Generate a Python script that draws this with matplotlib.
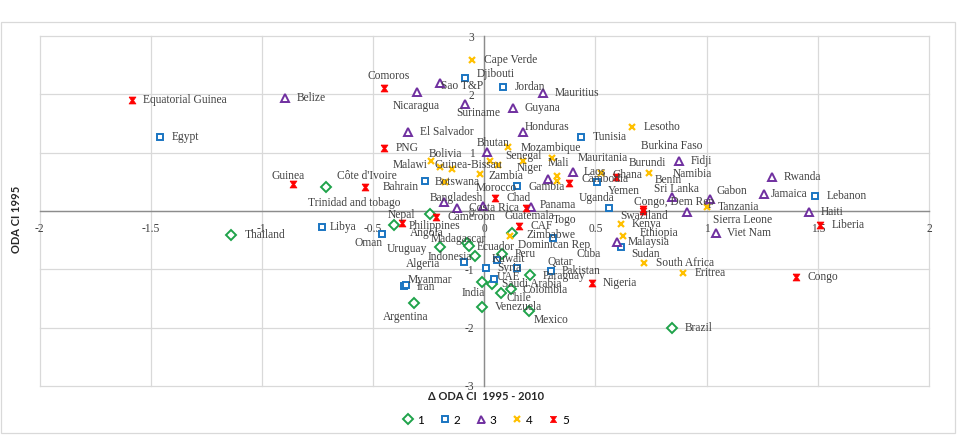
import matplotlib
matplotlib.use("Agg")
import matplotlib.pyplot as plt
from matplotlib.patches import Rectangle

# ---------------- data ----------------
g1_names = ["Trinidad and tobago", "Thailand", "Nepal", "Angola", "Uruguay", "Madagascar",
            "Ecuador", "Indonesia", "Peru", "Zimbabwe", "Paraguay", "India", "Saudi Arabia",
            "Chile", "Colombia", "Argentina", "Venezuela", "Mexico", "Brazil"]
g1_x = [-0.712, -1.140, -0.246, -0.408, -0.197, -0.076, -0.067, -0.043, 0.078, 0.126, 0.204,
        -0.012, 0.034, 0.074, 0.119, -0.318, -0.010, 0.202, 0.845]
g1_y = [0.407, -0.412, -0.048, -0.240, -0.626, -0.557, -0.605, -0.768, -0.741, -0.383, -1.103,
        -1.226, -1.256, -1.398, -1.338, -1.578, -1.642, -1.720, -2.012]

g2_names = ["Egypt", "Djibouti", "Jordan", "Tunisia", "Bahrain", "Morocco", "Yemen", "Uganda",
            "Lebanon", "Libya", "Oman", "Algeria", "Kuwait", "Syria", "Pakistan", "Qatar", "UAE",
            "Iran", "Myanmar", "Cuba", "Sudan"]
g2_x = [-1.458, -0.085, 0.085, 0.435, -0.267, 0.149, 0.508, 0.562, 1.488, -0.731, -0.458,
        -0.090, 0.057, 0.006, 0.148, 0.300, 0.045, -0.359, -0.354, 0.310, 0.613]
g2_y = [1.274, 2.286, 2.132, 1.264, 0.523, 0.437, 0.503, 0.046, 0.257, -0.274, -0.398,
        -0.880, -0.847, -0.973, -0.973, -1.029, -1.170, -1.292, -1.274, -0.458, -0.612]

g3_names = ["Belize", "Sao T&P", "Nicaragua", "Mauritius", "Suriname", "Guyana", "El Salvador",
            "Honduras", "Bhutan", "Gambia", "Laos", "Bangladesh", "Costa Rica", "Guatemala",
            "Panama", "Fidji", "Sri Lanka", "Gabon", "Sierra Leone", "Viet Nam", "Rwanda",
            "Jamaica", "Haiti", "Malaysia"]
g3_x = [-0.896, -0.199, -0.301, 0.263, -0.088, 0.130, -0.342, 0.173, 0.014, 0.288, 0.397,
        -0.183, -0.121, -0.007, 0.209, 0.877, 0.845, 1.015, 0.910, 1.042, 1.294, 1.258, 1.460,
        0.595]
g3_y = [1.943, 2.190, 2.036, 2.029, 1.835, 1.762, 1.360, 1.350, 1.017, 0.544, 0.664, 0.149,
        0.046, 0.091, 0.074, 0.858, 0.245, 0.206, -0.022, -0.383, 0.578, 0.292, -0.022, -0.527]

g4_names = ["Cape Verde", "Mozambique", "Bolivia", "Malawi", "Guinea-Bissau", "Botswana",
            "Zambia", "Senegal", "Niger", "Mauritania", "Mali", "Burkina Faso", "Burundi",
            "Ghana", "Benin", "Lesotho", "Tanzania", "Kenya", "Ethiopia", "South Africa",
            "Eritrea", "Dominican Rep"]
g4_x = [-0.054, 0.109, -0.241, -0.199, -0.147, -0.177, -0.019, 0.026, 0.063, 0.175, 0.303,
        0.326, 0.326, 0.523, 0.742, 0.665, 1.000, 0.613, 0.622, 0.719, 0.893, 0.116]
g4_y = [2.595, 1.093, 0.866, 0.760, 0.715, 0.503, 0.630, 0.863, 0.789, 0.863, 0.904, 0.600,
        0.520, 0.647, 0.647, 1.446, 0.063, -0.223, -0.429, -0.897, -1.058, -0.429]

g5_names = ["Equatorial Guinea", "Comoros", "PNG", "Guinea", "Côte d'Ivoire", "Chad",
            "Cameroon", "Philippines", "Togo", "CAF", "Cambodia", "Namibia", "Congo, Dem Rep",
            "Swaziland", "Liberia", "Congo", "Nigeria"]
g5_x = [-1.585, -0.452, -0.451, -0.859, -0.536, 0.050, -0.217, -0.368, 0.188, 0.156, 0.382,
        0.592, 0.712, 0.715, 1.509, 1.402, 0.483]
g5_y = [1.904, 2.115, 1.075, 0.458, 0.417, 0.218, -0.108, -0.206, 0.046, -0.257, 0.475,
        0.578, 0.029, 0.005, -0.240, -1.127, -1.240]

group_labels = ["1", "2", "3", "4", "5"]
x_ticks = [-2, -1.5, -1, -0.5, 0, 0.5, 1, 1.5, 2]
x_tick_labels = ["-2", "-1.5", "-1", "-0.5", "0", "0.5", "1", "1.5", "2"]
y_ticks = [-3, -2, -1, 0, 1, 2, 3]
y_tick_labels = ["-3", "-2", "-1", "0", "1", "2", "3"]
x_title = "Δ ODA CI  1995 - 2010"
y_title = "ODA CI 1995"

# ---------------- label placement (style, pixel offsets) ----------------
DEFAULT_OFF = (11.5, 0)
label_offsets = {
    "Trinidad and tobago": (-18, -16), "Thailand": (14, 0), "Nepal": (-41.5, -1),
    "Angola": (16.5, -8), "Uruguay": (-54, -1.5), "Madagascar": (-37, 4.5), "Ecuador": (7, -1),
    "Indonesia": (-47, -1), "Peru": (13, 0), "Zimbabwe": (14, -2), "Paraguay": (13, -1),
    "India": (-20, -11), "Saudi Arabia": (10, 0), "Chile": (6, -5), "Colombia": (12, -1),
    "Argentina": (-31, -14), "Venezuela": (13, 0), "Mexico": (5, -9), "Brazil": (13, 0),
    "Djibouti": (11, 4), "Bahrain": (-42, -6), "Morocco": (-42, -2), "Yemen": (11, -9),
    "Uganda": (-31, 10), "Libya": (8, 0), "Oman": (-28, -9), "Algeria": (-58, -2),
    "Kuwait": (-5, 1), "Pakistan": (45, -3), "Qatar": (-3, 9), "UAE": (2, 2.5),
    "Iran": (12, -1), "Myanmar": (2.5, 5), "Cuba": (23, -16), "Sudan": (11, -7),
    "Sao T&P": (1, -3), "Nicaragua": (-25, -14), "Suriname": (-8, -9), "Honduras": (2, 5),
    "Bhutan": (-11, 9), "Gambia": (-20, -8), "Bangladesh": (-14, 4), "Guatemala": (22, -10),
    "Panama": (9, 2), "Sri Lanka": (-18, 8), "Gabon": (7, 8), "Sierra Leone": (26, -8),
    "Jamaica": (7, 0), "Mozambique": (12, -1), "Bolivia": (-2, 7), "Malawi": (-47, 2),
    "Guinea-Bissau": (-17, 4), "Botswana": (-10, 0), "Zambia": (8, -2), "Senegal": (15, 5),
    "Niger": (18, -3), "Mauritania": (55, 3), "Mali": (-4, -5), "Burkina Faso": (84, 30),
    "Burundi": (72, 18), "Ghana": (12, -2), "Benin": (5, -7), "Ethiopia": (17, 3),
    "Dominican Rep": (8, -9), "Comoros": (-16, 12), "Guinea": (-22, 8),
    "Côte d'Ivoire": (-28, 11), "Philippines": (6, -3), "Togo": (27, -12),
    "Cambodia": (12, 4), "Namibia": (57, 3), "Congo, Dem Rep": (-9, 7), "Swaziland": (-23, -5),
}

# ---------------- figure ----------------
W, H = 957, 436
fig = plt.figure(figsize=(W / 100, H / 100), dpi=100)
fig.patches.append(Rectangle((0.5 / W, 3 / H), 954.5 / W, 411 / H, transform=fig.transFigure,
                             fill=False, edgecolor="#D9D9D9", lw=0.9))

ax = fig.add_axes([39.5 / W, (H - 385.9) / H, 889.5 / W, 349.8 / H])
ax.set_xlim(-2, 2)
ax.set_ylim(-3, 3)
ax.set_xticks(x_ticks)
ax.set_xticklabels(x_tick_labels)
ax.set_yticks(y_ticks)
ax.set_yticklabels(y_tick_labels)

for s in ("top", "right"):
    ax.spines[s].set_visible(False)
ax.spines["left"].set_position("zero")
ax.spines["bottom"].set_position("zero")
for s in ("left", "bottom"):
    ax.spines[s].set_color("#8C8C8C")
    ax.spines[s].set_linewidth(1.0)
    ax.spines[s].set_zorder(2.6)

ax.grid(True, color="#D9D9D9", lw=0.9)
ax.set_axisbelow(True)
for gl in ax.get_xgridlines() + ax.get_ygridlines():
    gl.set_clip_on(False)

tick_font = dict(family="Liberation Serif", size=8.3)
ax.tick_params(axis="x", length=0, pad=8.5, colors="#404040", labelsize=8.3)
ax.tick_params(axis="y", length=0, pad=7, colors="#404040", labelsize=8.3)
for t in ax.get_xticklabels() + ax.get_yticklabels():
    t.set_fontfamily("Liberation Serif")

hourglass = [(-1, 1), (1, 1), (0.3, 0), (1, -1), (-1, -1), (-0.3, 0), (-1, 1)]

groups = [
    (g1_names, g1_x, g1_y, dict(marker="D", markersize=5.2, mfc="white", mec="#1FA34A", mew=1.4)),
    (g2_names, g2_x, g2_y, dict(marker="s", markersize=5.0, mfc="white", mec="#1A75C2", mew=1.4)),
    (g3_names, g3_x, g3_y, dict(marker="^", markersize=5.6, mfc="white", mec="#7030A0", mew=1.4)),
    (g4_names, g4_x, g4_y, dict(marker="x", markersize=5.0, mec="#FFC000", mew=1.6)),
    (g5_names, g5_x, g5_y, dict(marker=hourglass, markersize=5.0, mfc="#FF0000", mec="#FF0000", mew=0.5)),
]

handles = []
for (names, xs, ys, style), lab in zip(groups, group_labels):
    h, = ax.plot(xs, ys, linestyle="none", zorder=3, label=lab, clip_on=False, **style)
    handles.append(h)
    for n, x, y in zip(names, xs, ys):
        dx, dy = label_offsets.get(n, DEFAULT_OFF)
        ax.annotate(n, (x, y), xytext=(dx, dy), textcoords="offset pixels",
                    ha="left", va="center", fontsize=8.3, family="Liberation Serif",
                    color="#404040", zorder=4, annotation_clip=False)

title_font = ["Lato", "DejaVu Sans"]
fig.text(486 / W, 1 - 396.5 / H, x_title, ha="center", va="center", fontsize=8,
         fontweight="bold", family=title_font, color="#262626")
fig.text(16 / W, 1 - 219 / H, y_title, ha="center", va="center", rotation=90, fontsize=8,
         fontweight="bold", family=title_font, color="#262626")

fig.legend(handles=handles, labels=group_labels, loc="center",
           bbox_to_anchor=(486 / W, 1 - 420 / H), ncol=5, frameon=False,
           prop=dict(family=title_font, size=8.5), handlelength=0.9, handletextpad=0.3,
           columnspacing=1.3, markerscale=0.9)

fig.savefig("out.png", dpi=100, facecolor="white")
